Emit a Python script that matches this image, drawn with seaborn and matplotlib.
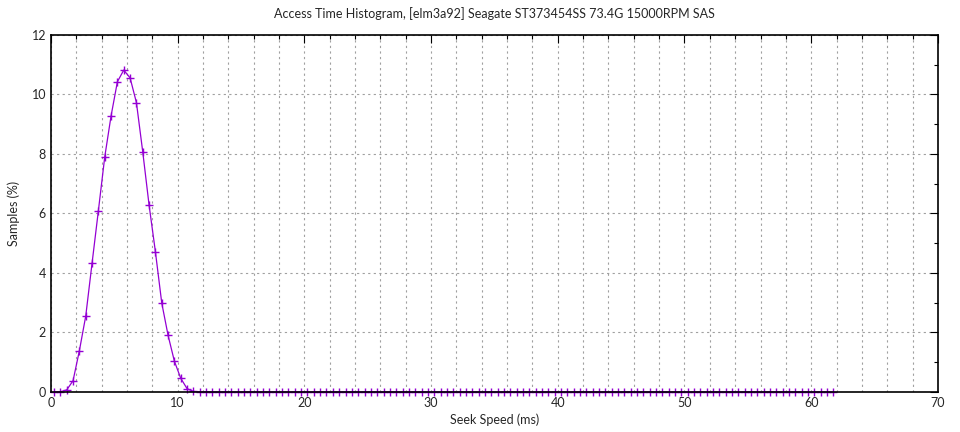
import matplotlib

matplotlib.use("Agg")

import matplotlib.pyplot as plt
import pandas as pd
import seaborn as sns
from matplotlib.ticker import MultipleLocator

TITLE = "Access Time Histogram, [elm3a92] Seagate ST373454SS 73.4G 15000RPM SAS"

# bin centres (ms), one bin every 0.5 ms
seek_ms = [
    0.25, 0.75, 1.25, 1.75, 2.25, 2.75, 3.25, 3.75, 4.25, 4.75,
    5.25, 5.75, 6.25, 6.75, 7.25, 7.75, 8.25, 8.75, 9.25, 9.75,
    10.25, 10.75, 11.25, 11.75, 12.25, 12.75, 13.25, 13.75, 14.25, 14.75,
    15.25, 15.75, 16.25, 16.75, 17.25, 17.75, 18.25, 18.75, 19.25, 19.75,
    20.25, 20.75, 21.25, 21.75, 22.25, 22.75, 23.25, 23.75, 24.25, 24.75,
    25.25, 25.75, 26.25, 26.75, 27.25, 27.75, 28.25, 28.75, 29.25, 29.75,
    30.25, 30.75, 31.25, 31.75, 32.25, 32.75, 33.25, 33.75, 34.25, 34.75,
    35.25, 35.75, 36.25, 36.75, 37.25, 37.75, 38.25, 38.75, 39.25, 39.75,
    40.25, 40.75, 41.25, 41.75, 42.25, 42.75, 43.25, 43.75, 44.25, 44.75,
    45.25, 45.75, 46.25, 46.75, 47.25, 47.75, 48.25, 48.75, 49.25, 49.75,
    50.25, 50.75, 51.25, 51.75, 52.25, 52.75, 53.25, 53.75, 54.25, 54.75,
    55.25, 55.75, 56.25, 56.75, 57.25, 57.75, 58.25, 58.75, 59.25, 59.75,
    60.25, 60.75, 61.25, 61.75,
]
# share of samples per bin (%)
samples_pct = [
    0.00, 0.01, 0.07, 0.38, 1.39, 2.55, 4.33, 6.10, 7.90, 9.28,
    10.43, 10.82, 10.56, 9.73, 8.07, 6.28, 4.71, 2.99, 1.90, 1.03,
    0.46, 0.11, 0.02, 0.00, 0.01, 0.00, 0.00, 0.00, 0.00, 0.00,
    0.00, 0.00, 0.00, 0.00, 0.00, 0.00, 0.00, 0.00, 0.00, 0.00,
    0.00, 0.00, 0.00, 0.00, 0.00, 0.00, 0.00, 0.00, 0.00, 0.00,
    0.00, 0.00, 0.00, 0.00, 0.00, 0.00, 0.00, 0.00, 0.00, 0.00,
    0.00, 0.00, 0.00, 0.00, 0.00, 0.00, 0.00, 0.00, 0.00, 0.00,
    0.00, 0.00, 0.00, 0.00, 0.00, 0.00, 0.00, 0.00, 0.00, 0.00,
    0.00, 0.00, 0.00, 0.00, 0.00, 0.00, 0.00, 0.00, 0.00, 0.00,
    0.00, 0.00, 0.00, 0.00, 0.00, 0.00, 0.00, 0.00, 0.00, 0.00,
    0.00, 0.00, 0.00, 0.00, 0.00, 0.00, 0.00, 0.00, 0.00, 0.00,
    0.00, 0.00, 0.00, 0.00, 0.00, 0.00, 0.00, 0.00, 0.00, 0.00,
    0.00, 0.00, 0.00, 0.00,
]

LINE = "#9400d3"
GRID = "#a0a0a0"

sns.set_style("white")
plt.rcParams["font.family"] = ["Lato", "DejaVu Sans"]
plt.rcParams["font.size"] = 9

df = pd.DataFrame({"seek": seek_ms, "pct": samples_pct})

fig = plt.figure(figsize=(9.6, 4.32), dpi=100)
ax = fig.add_axes([0.053, 0.0926, 0.924, 0.8264])

# line and "+" points sit under the black frame (gnuplot style)
sns.lineplot(data=df, x="seek", y="pct", ax=ax, color=LINE, lw=0.9, zorder=2)
sns.scatterplot(
    data=df, x="seek", y="pct", ax=ax,
    marker="+", s=40, color=LINE, linewidth=1.0, zorder=2.6,
)
for coll in ax.collections:
    coll.set_clip_on(False)

ax.set_xlim(0, 70)
ax.set_ylim(0, 12)
ax.xaxis.set_major_locator(MultipleLocator(10))
ax.xaxis.set_minor_locator(MultipleLocator(2))
ax.yaxis.set_major_locator(MultipleLocator(2))
ax.yaxis.set_minor_locator(MultipleLocator(1))

# dotted grid: x at every 2 ms, y at the major ticks
ax.grid(which="both", axis="x", color=GRID, ls=(0, (2, 3)), lw=0.8)
ax.grid(which="major", axis="y", color=GRID, ls=(0, (2, 3)), lw=0.8)
ax.set_axisbelow(True)

ax.tick_params(which="both", direction="in", top=True, right=True, color="black")
ax.tick_params(which="major", length=6, width=0.8, labelsize=9)
ax.tick_params(which="minor", length=3, width=0.8)
for s in ax.spines.values():
    s.set_visible(True)
    s.set_color("black")
    s.set_linewidth(1.2)
    s.set_zorder(3)

ax.set_xlabel("Seek Speed (ms)", fontsize=9, labelpad=3)
ax.set_ylabel("Samples (%)", fontsize=9, labelpad=8)
ax.set_title(TITLE, fontsize=9, pad=12)

fig.savefig("out.png", dpi=100)
